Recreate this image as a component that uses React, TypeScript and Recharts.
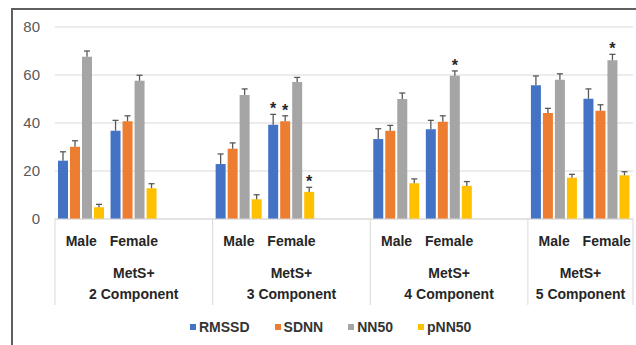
import React from 'react';
import { BarChart, Bar, XAxis, YAxis, CartesianGrid, Legend, LabelList } from 'recharts';

// x slots: each MetS+ group has Male, Female and a blank spacer (last group has no spacer)
const categories = ['Male', 'Female', '', 'Male', 'Female', '', 'Male', 'Female', '', 'Male', 'Female'];
const groupLabels = ['2 Component', '3 Component', '4 Component', '5 Component'];

// values in order: 2M, 2F, 3M, 3F, 4M, 4F, 5M, 5F
const rmssd = [24.3, 36.8, 22.9, 39.3, 33.3, 37.4, 55.7, 50.1];
const rmssdErr = [3.7, 4.3, 4.2, 4.3, 4.3, 3.7, 3.9, 4.1];
const sdnn = [30.1, 40.7, 29.3, 40.7, 36.8, 40.5, 44.2, 45.1];
const sdnnErr = [2.5, 2.3, 2.4, 2.3, 2.2, 2.5, 1.9, 2.5];
const nn50 = [67.6, 57.6, 51.7, 57.1, 50.0, 59.7, 58.0, 66.1];
const nn50Err = [2.4, 2.3, 2.5, 1.9, 2.5, 2.0, 2.5, 2.5];
const pnn50 = [4.9, 12.8, 8.2, 11.3, 14.9, 13.8, 17.2, 18.2];
const pnn50Err = [1.2, 1.9, 1.9, 1.9, 1.8, 1.8, 1.4, 1.5];

// significance marks (*)
const rmssdSig = [false, false, false, true, false, false, false, false];
const sdnnSig = [false, false, false, true, false, false, false, false];
const nn50Sig = [false, false, false, false, false, true, false, true];
const pnn50Sig = [false, false, false, true, false, false, false, false];

const yTicks = [0, 20, 40, 60, 80];

const series = [
  { key: 'rmssd', name: 'RMSSD', color: '#4472C4' },
  { key: 'sdnn', name: 'SDNN', color: '#ED7D31' },
  { key: 'nn50', name: 'NN50', color: '#A5A5A5' },
  { key: 'pnn50', name: 'pNN50', color: '#FFC000' },
];

const FONT = '"Liberation Sans", Arial, sans-serif';
const GRID = '#d9d9d9';

let k = 0;
const data = categories.map((cat) => {
  if (!cat) return { cat };
  const row = {
    cat,
    rmssd: rmssd[k], rmssdErr: rmssdErr[k], rmssdStar: rmssdSig[k] ? '*' : '',
    sdnn: sdnn[k], sdnnErr: sdnnErr[k], sdnnStar: sdnnSig[k] ? '*' : '',
    nn50: nn50[k], nn50Err: nn50Err[k], nn50Star: nn50Sig[k] ? '*' : '',
    pnn50: pnn50[k], pnn50Err: pnn50Err[k], pnn50Star: pnn50Sig[k] ? '*' : '',
  };
  k++;
  return row;
});

const Whisker = (props: any) => {
  const { x, y, width, height } = props;
  if (!height || height <= 0) return null;
  const cx = x + width / 2;
  return (
    <g stroke="#595959" strokeWidth={1.3}>
      <line x1={cx} x2={cx} y1={y + height} y2={y} />
      <line x1={cx - 3} x2={cx + 3} y1={y} y2={y} />
    </g>
  );
};

const Star = (props: any) => {
  const { x, y, width, value } = props;
  if (!value) return null;
  return (
    <text x={x + width / 2} y={y} textAnchor="middle" fontSize={16} fontWeight="bold" fill="#262626" fontFamily={FONT}>
      *
    </text>
  );
};

const CategoryTick = (props: any) => {
  const { x, y, payload } = props;
  const i = payload.index;
  const half = payload.offset || 578 / 11 / 2;
  const label = categories[i];
  const parts: React.ReactNode[] = [];
  if (label) {
    parts.push(
      <text key="t" x={x} y={y + 27} textAnchor="middle" fontSize={14} fontWeight="bold" fill="#262626" fontFamily={FONT}>{label}</text>
    );
  }
  if (label === 'Male') {
    const g = Math.floor(i / 3);
    const isLast = i + 2 >= categories.length;
    const gx = x + (isLast ? half : 2 * half);
    parts.push(<line key="s" x1={x - half} x2={x - half} y1={y} y2={y + 86} stroke={GRID} />);
    parts.push(
      <text key="g" x={gx} textAnchor="middle" fontSize={14} fontWeight="bold" fill="#262626" fontFamily={FONT}>
        <tspan x={gx} y={y + 59}>MetS+</tspan>
        <tspan x={gx} y={y + 80}>{groupLabels[g]}</tspan>
      </text>
    );
  }
  if (i === categories.length - 1) {
    parts.push(<line key="e" x1={x + half} x2={x + half} y1={y} y2={y + 86} stroke={GRID} />);
  }
  return <g>{parts}</g>;
};

const LegendContent = () => (
  <div
    style={{
      width: 636, height: 30, boxSizing: 'border-box', paddingLeft: 190, paddingBottom: 6,
      display: 'flex', alignItems: 'center', fontFamily: FONT, fontSize: 14, fontWeight: 'bold', color: '#333',
    }}
  >
    {series.map((s) => (
      <div key={s.key} style={{ display: 'flex', alignItems: 'center', marginRight: 25 }}>
        <span style={{ width: 6, height: 6, background: s.color, marginRight: 3, display: 'inline-block' }} />
        <span>{s.name}</span>
      </div>
    ))}
  </div>
);

export default function App() {
  return (
    <div style={{ position: 'absolute', left: 0, top: 0, width: 636, height: 345, background: '#fff', overflow: 'hidden' }}>
      <div style={{ position: 'absolute', left: 11, top: 8, width: 640, height: 350, borderTop: '2px solid #5f5f5f', borderLeft: '2px solid #5f5f5f' }} />
      <div style={{ position: 'absolute', left: 0, top: 0 }}>
        <BarChart width={636} height={345} data={data} margin={{ top: 27, right: 3, left: 0, bottom: 0 }} barSize={10} barGap={2}>
          <CartesianGrid vertical={false} stroke={GRID} />
          <XAxis
            dataKey="cat"
            height={96}
            interval={0}
            tickLine={false}
            tickSize={0}
            tickMargin={0}
            axisLine={{ stroke: GRID }}
            tick={<CategoryTick />}
          />
          <YAxis
            width={55}
            domain={[0, 80]}
            ticks={yTicks}
            axisLine={false}
            tickLine={false}
            tickSize={0}
            tickMargin={15}
            tick={{ fontSize: 15, fill: '#595959', fontFamily: FONT }}
          />
          <Legend verticalAlign="bottom" content={<LegendContent />} wrapperStyle={{ left: 0, width: 636, height: 30 }} />
          {series.map((s) => [
            <Bar key={s.key} dataKey={s.key} stackId={s.key} fill={s.color} isAnimationActive={false} legendType="square" />,
            <Bar key={s.key + 'Err'} dataKey={s.key + 'Err'} stackId={s.key} fill="none" shape={<Whisker />} isAnimationActive={false} legendType="none">
              <LabelList dataKey={s.key + 'Star'} content={<Star />} />
            </Bar>,
          ])}
        </BarChart>
      </div>
    </div>
  );
}
